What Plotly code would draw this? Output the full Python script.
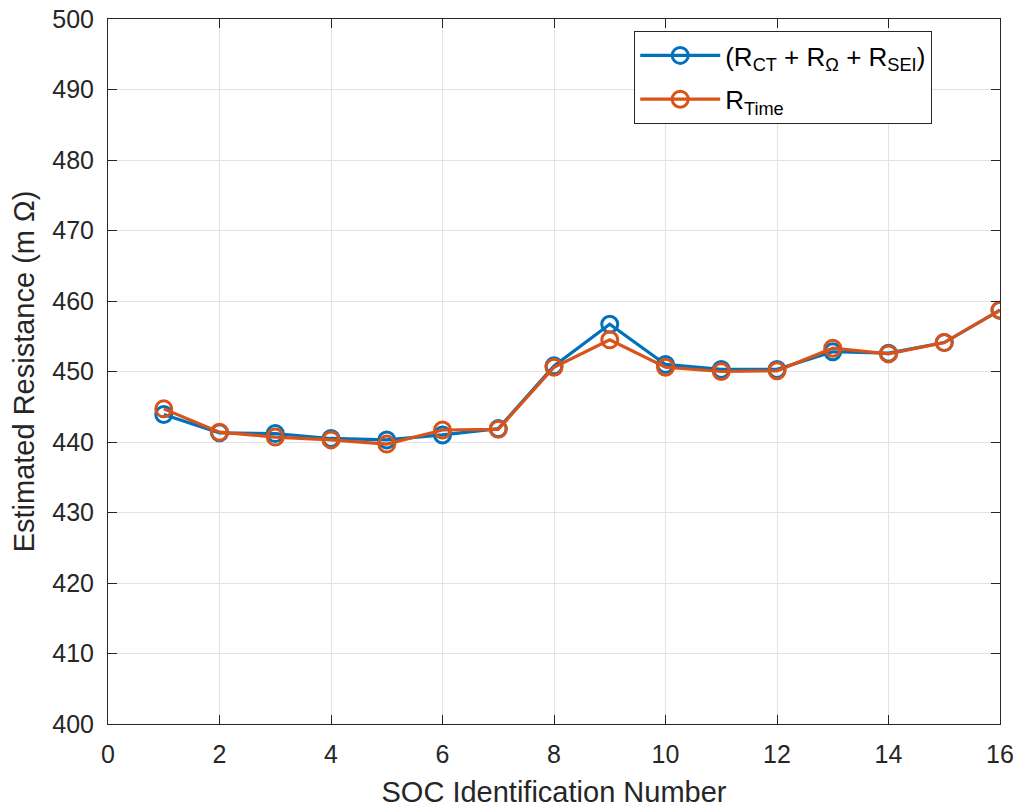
import plotly.graph_objects as go

soc_id = list(range(1, 17))
r_sum = [443.9, 441.3, 441.2, 440.5, 440.3, 441.0, 441.9, 450.8, 456.7, 451.0,
         450.3, 450.3, 452.8, 452.6, 454.1, 458.7]
r_time = [444.7, 441.4, 440.7, 440.3, 439.7, 441.7, 441.8, 450.6, 454.5, 450.6,
          450.0, 450.1, 453.3, 452.5, 454.1, 458.7]

x_ticks = list(range(0, 17, 2))
y_ticks = list(range(400, 501, 10))

blue = "#0072BD"
orange = "#D95319"
FONT = "Liberation Sans, Arial, sans-serif"

fig = go.Figure()
fig.add_trace(go.Scatter(
    x=soc_id, y=r_sum, mode="lines+markers",
    name="(R<sub>CT</sub> + R<sub>Ω</sub> + R<sub>SEI</sub>)",
    legendgroup="a",
    line=dict(color=blue, width=3.2),
    marker=dict(symbol="circle-open", size=16, color=blue, line=dict(width=3, color=blue)),
))
fig.add_trace(go.Scatter(
    x=soc_id, y=r_time, mode="lines+markers",
    name="R<sub>Time</sub>",
    legendgroup="b",
    line=dict(color=orange, width=3.2),
    marker=dict(symbol="circle-open", size=16, color=orange, line=dict(width=3, color=orange)),
))

axis_common = dict(
    showline=True, linecolor="#262626", linewidth=1, mirror="ticks",
    ticks="inside", ticklen=9, tickcolor="#262626", tickwidth=1,
    showgrid=True, gridcolor="#e3e3e3", gridwidth=1, zeroline=False,
    automargin=False,
    tickfont=dict(family=FONT, size=25, color="#262626"),
)

fig.update_xaxes(range=[0, 16], tickvals=x_ticks, ticklabelstandoff=8,
                 title=dict(text="SOC Identification Number", standoff=14,
                            font=dict(family=FONT, size=29, color="#262626")),
                 **axis_common)
fig.update_yaxes(range=[400, 500], tickvals=y_ticks, ticklabelstandoff=8,
                 title=dict(text="Estimated Resistance (m Ω)", standoff=9,
                            font=dict(family=FONT, size=29, color="#262626")),
                 **axis_common)

fig.update_layout(
    width=1024, height=812,
    margin=dict(l=108, r=24, t=19, b=88),
    paper_bgcolor="white", plot_bgcolor="white",
    showlegend=True,
    legend=dict(
        x=0.924, y=0.983, xanchor="right", yanchor="top",
        bordercolor="#262626", borderwidth=1, bgcolor="white",
        font=dict(family=FONT, size=26, color="#000000"),
        itemwidth=80, tracegroupgap=7,
    ),
)

fig.write_html("out.html")
